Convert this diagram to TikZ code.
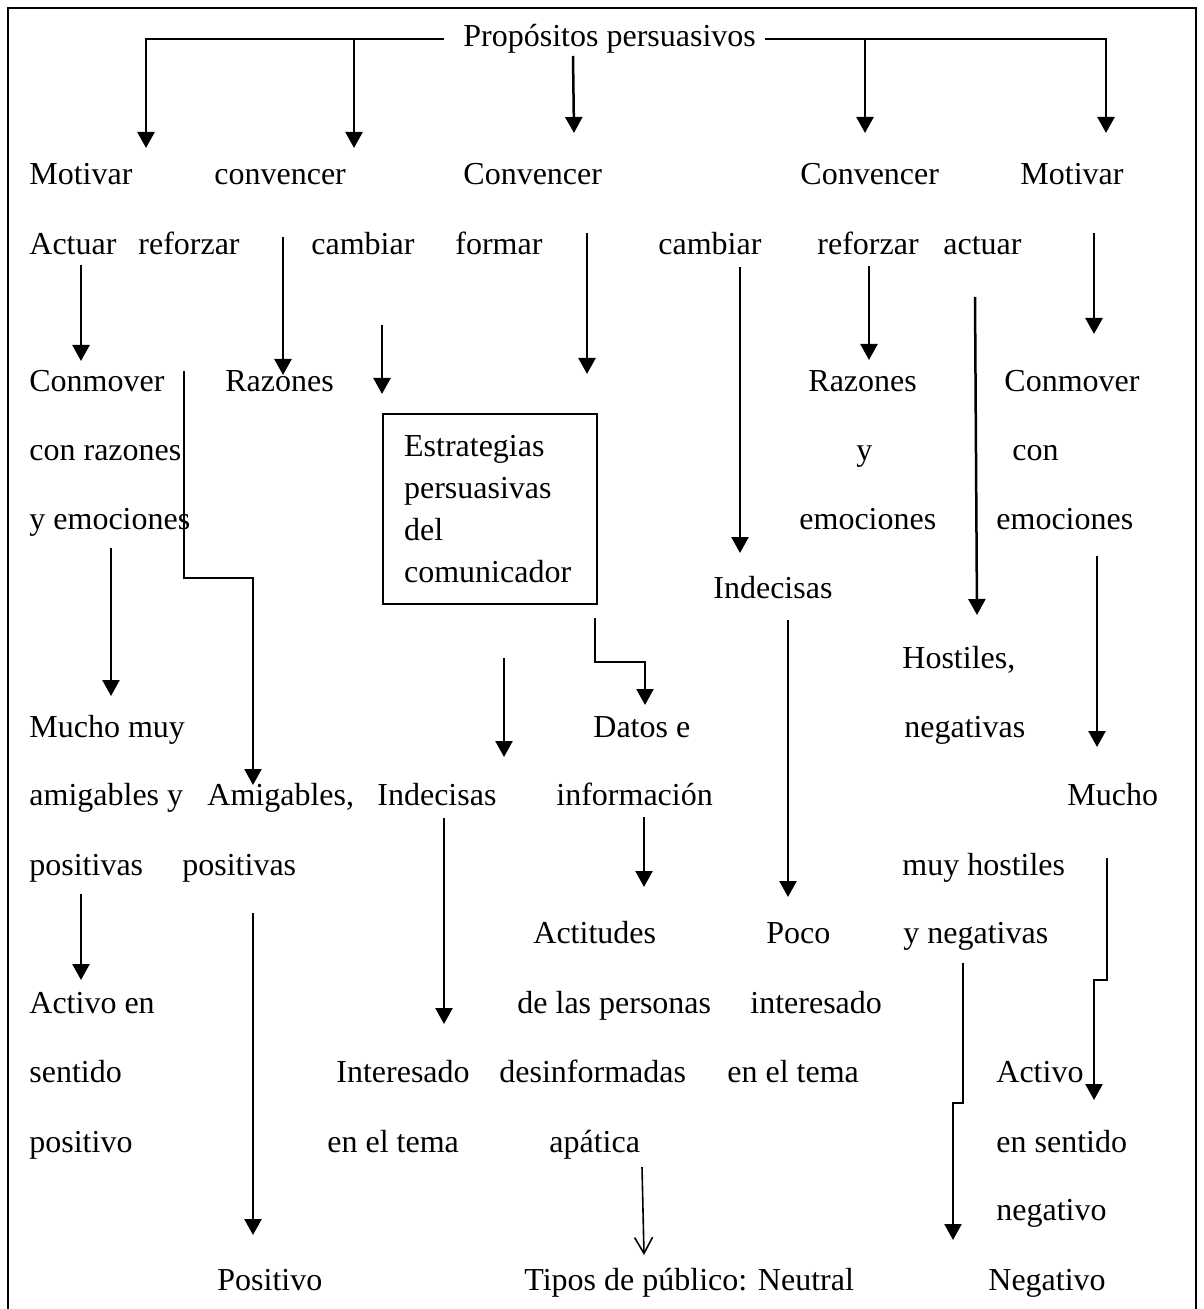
\documentclass[tikz,border=0pt]{standalone}
\usepackage{fontspec}
\setmainfont{Liberation Serif}
\usetikzlibrary{arrows.meta}

\tikzset{
  txt/.style={anchor=base west, inner sep=0pt, font=\fontsize{16}{21}\selectfont},
  arr/.style={line width=1.25pt, -{Triangle[length=8pt,width=8.5pt]}},
  thin arr/.style={line width=0.8pt, -{Straight Barb[length=8pt,width=9pt]}},
  caja/.style={draw, line width=1.1pt, anchor=north west, align=left, text width=86pt,
    inner xsep=10.5pt, minimum height=95pt, font=\fontsize{16}{21}\selectfont}
}

\begin{document}
\begin{tikzpicture}[x=0.5pt, y=-0.5pt]

\useasboundingbox (0,0) rectangle (1203,1309);
\draw[line width=1.2pt] (8,1309) -- (8,8) -- (1196,8) -- (1196,1309);

\node[txt] (P) at (463,47) {Propósitos persuasivos};

\node[txt] (mot1) at (29,185) {Motivar};
\node[txt] (conv1) at (214,185) {convencer};
\node[txt] (conv2) at (463,185) {Convencer};
\node[txt] (conv3) at (800,185) {Convencer};
\node[txt] (mot2) at (1020,185) {Motivar};

\node[txt] (act1) at (29,255) {Actuar};
\node[txt] (ref1) at (138,255) {reforzar};
\node[txt] (cam1) at (311,255) {cambiar};
\node[txt] (for1) at (455,255) {formar};
\node[txt] (cam2) at (658,255) {cambiar};
\node[txt] (ref2) at (817,255) {reforzar};
\node[txt] (act2) at (943,255) {actuar};

\node[txt] (conm1) at (29,392) {Conmover};
\node[txt] (raz1) at (225,392) {Razones};
\node[txt] (raz2) at (808,392) {Razones};
\node[txt] (conm2) at (1004,392) {Conmover};
\node[txt] (conm1b) at (29,461) {con razones};
\node[txt] (raz2b) at (856,461) {y};
\node[txt] (conm2b) at (1012,461) {con};
\node[txt] (conm1c) at (29,530) {y emociones};
\node[txt] (raz2c) at (799,530) {emociones};
\node[txt] (conm2c) at (996,530) {emociones};

\node[caja] (E) at (382,413) {Estrategias\\persuasivas\\del\\comunicador};

\node[txt] (ind2) at (713,598) {Indecisas};
\node[txt] (hos1) at (902,668) {Hostiles,};

\node[txt] (mu1) at (29,737) {Mucho muy};
\node[txt] (dat1) at (593,737) {Datos e};
\node[txt] (hos2) at (904,737) {negativas};

\node[txt] (mu2) at (29,805) {amigables y};
\node[txt] (ami1) at (207,805) {Amigables,};
\node[txt] (ind1) at (377,805) {Indecisas};
\node[txt] (dat2) at (556,805) {información};
\node[txt] (mh1) at (1067,805) {Mucho};

\node[txt] (mu3) at (29,875) {positivas};
\node[txt] (ami2) at (182,875) {positivas};
\node[txt] (mh2) at (902,875) {muy hostiles};

\node[txt] (acti1) at (533,943) {Actitudes};
\node[txt] (poc1) at (766,943) {Poco};
\node[txt] (mh3) at (903,943) {y negativas};

\node[txt] (ap1) at (29,1013) {Activo en};
\node[txt] (acti2) at (517,1013) {de las personas};
\node[txt] (poc2) at (750,1013) {interesado};

\node[txt] (ap2) at (29,1082) {sentido};
\node[txt] (int1) at (336,1082) {Interesado};
\node[txt] (acti3) at (499,1082) {desinformadas};
\node[txt] (poc3) at (727,1082) {en el tema};
\node[txt] (an1) at (996,1082) {Activo};

\node[txt] (ap3) at (29,1152) {positivo};
\node[txt] (int2) at (327,1152) {en el tema};
\node[txt] (acti4) at (549,1152) {apática};
\node[txt] (an2) at (996,1152) {en sentido};
\node[txt] (an3) at (996,1220) {negativo};

\node[txt] (pos) at (217,1290) {Positivo};
\node[txt] (neu) at (524,1290) {Tipos de público: Neutral};
\node[txt] (neg) at (988,1290) {Negativo};

\coordinate (s1) at (444,39);   \coordinate (e1) at (146,148);
\coordinate (s2) at (354,39);   \coordinate (e2) at (354,148);
\coordinate (s3) at (765,39);   \coordinate (e3) at (1106,133);
\coordinate (s4) at (865,39);   \coordinate (e4) at (865,133);
\coordinate (s5) at (573,56);   \coordinate (e5) at (574,133);
\coordinate (s6) at (81,265);   \coordinate (e6) at (81,361);
\coordinate (s7) at (283,237);  \coordinate (e7) at (283,375);
\coordinate (s8) at (382,325);  \coordinate (e8) at (382,394);
\coordinate (s9) at (587,233);  \coordinate (e9) at (587,374);
\coordinate (s10) at (740,267); \coordinate (e10) at (740,553);
\coordinate (s11) at (869,266); \coordinate (e11) at (869,360);
\coordinate (s12) at (975,297); \coordinate (e12) at (977,615);
\coordinate (s13) at (1094,233); \coordinate (e13) at (1094,334);
\coordinate (s14) at (184,371); \coordinate (e14) at (253,785);
\coordinate (s15) at (111,548); \coordinate (e15) at (111,696);
\coordinate (s16) at (595,618); \coordinate (e16) at (645,705);
\coordinate (s17) at (504,658); \coordinate (e17) at (504,757);
\coordinate (s18) at (1097,556); \coordinate (e18) at (1097,747);
\coordinate (s19) at (788,620); \coordinate (e19) at (788,897);
\coordinate (s20) at (81,894);  \coordinate (e20) at (81,980);
\coordinate (s21) at (253,913); \coordinate (e21) at (253,1235);
\coordinate (s22) at (444,818); \coordinate (e22) at (444,1024);
\coordinate (s23) at (644,817); \coordinate (e23) at (644,887);
\coordinate (s24) at (1107,858); \coordinate (e24) at (1094,1100);
\coordinate (s25) at (963,963); \coordinate (e25) at (953,1240);
\coordinate (s26) at (642,1167); \coordinate (e26) at (644,1255);

\draw[arr] (s1) -| (e1);
\draw[arr] (s2) -- (e2);
\draw[arr] (s3) -| (e3);
\draw[arr] (s4) -- (e4);
\draw[arr] (s5) -- (e5);
\draw[arr] (s6) -- (e6);
\draw[arr] (s7) -- (e7);
\draw[arr] (s8) -- (e8);
\draw[arr] (s9) -- (e9);
\draw[arr] (s10) -- (e10);
\draw[arr] (s11) -- (e11);
\draw[arr] (s12) -- (e12);
\draw[arr] (s13) -- (e13);
\draw[arr] (s14) -- ++(0,207) -| (e14);
\draw[arr] (s15) -- (e15);
\draw[arr] (s16) -- ++(0,44) -| (e16);
\draw[arr] (s17) -- (e17);
\draw[arr] (s18) -- (e18);
\draw[arr] (s19) -- (e19);
\draw[arr] (s20) -- (e20);
\draw[arr] (s21) -- (e21);
\draw[arr] (s22) -- (e22);
\draw[arr] (s23) -- (e23);
\draw[arr] (s24) -- ++(0,122) -| (e24);
\draw[arr] (s25) -- ++(0,140) -| (e25);
\draw[thin arr] (s26) -- (e26);

\end{tikzpicture}
\end{document}
